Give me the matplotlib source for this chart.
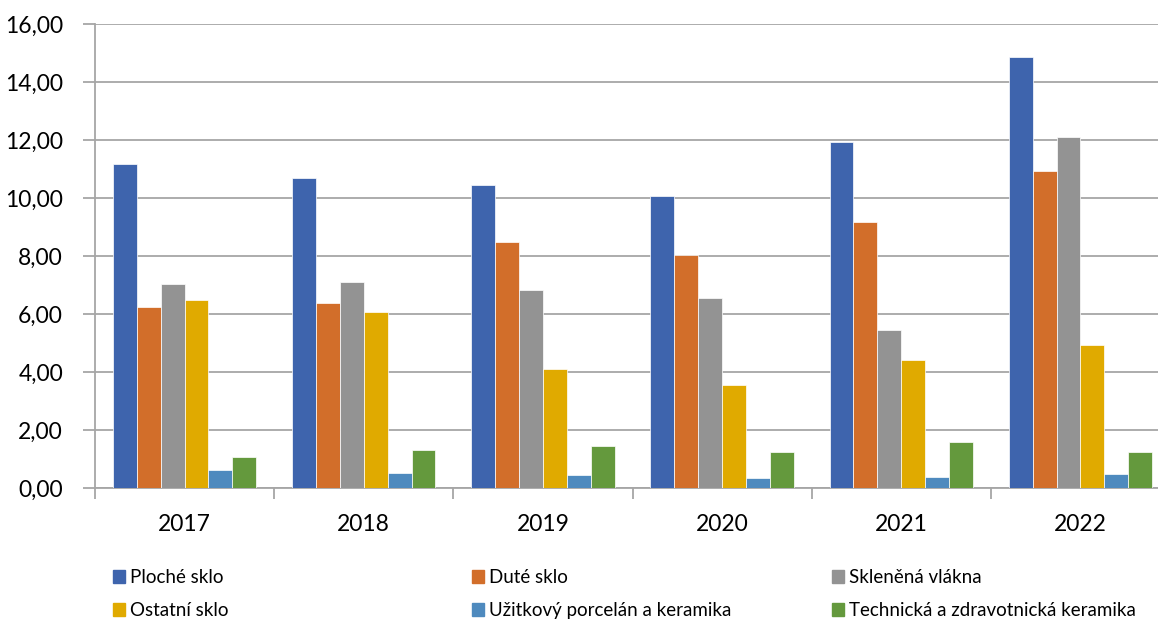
import matplotlib
matplotlib.use("Agg")
import matplotlib.pyplot as plt
import numpy as np
from matplotlib.patches import Patch
from matplotlib.ticker import FuncFormatter

years = ["2017", "2018", "2019", "2020", "2021", "2022"]
series_names = ["Ploché sklo", "Duté sklo", "Skleněná vlákna",
                "Ostatní sklo", "Užitkový porcelán a keramika",
                "Technická a zdravotnická keramika"]
ploche_sklo = [11.16, 10.70, 10.46, 10.07, 11.94, 14.87]
dute_sklo = [6.25, 6.39, 8.50, 8.02, 9.18, 10.92]
sklenena_vlakna = [7.04, 7.09, 6.82, 6.55, 5.45, 12.11]
ostatni_sklo = [6.49, 6.08, 4.09, 3.54, 4.43, 4.93]
uzitkovy_porcelan = [0.61, 0.53, 0.46, 0.34, 0.39, 0.49]
technicka_keramika = [1.08, 1.32, 1.45, 1.25, 1.60, 1.25]
y_ticks = [0, 2, 4, 6, 8, 10, 12, 14, 16]

series = [ploche_sklo, dute_sklo, sklenena_vlakna, ostatni_sklo,
          uzitkovy_porcelan, technicka_keramika]
colors = ["#3E64AD", "#D26E2A", "#939393", "#E0AA00", "#4E8ABE", "#64993D"]

plt.rcParams['font.family'] = ['Lato', 'DejaVu Sans']

fig = plt.figure(figsize=(11.58, 6.19), dpi=100)
ax = fig.add_axes([95 / 1158, (619 - 488) / 619, (1170 - 95) / 1158, 464 / 619])

x = np.arange(len(years))
bw = 1.0 / 7.5
for i, (vals, c) in enumerate(zip(series, colors)):
    ax.bar(x - 2.5 * bw + i * bw, vals, width=bw, color=c,
           edgecolor="white", linewidth=0.5, zorder=3, label=series_names[i])

ax.set_xlim(-0.5, len(years) - 0.5)
ax.set_ylim(0, 16)
ax.set_yticks(y_ticks)
ax.yaxis.set_major_formatter(FuncFormatter(lambda v, p: f"{v:.2f}".replace(".", ",")))
ax.grid(axis="y", color="#A6A6A6", linewidth=1.3, zorder=0)
ax.set_axisbelow(True)

ax.set_xticks(x)
ax.set_xticklabels(years)
ax.set_xticks(np.arange(-0.5, len(years)), minor=True)
ax.tick_params(axis="x", which="major", length=0, pad=19, labelsize=16.5)
ax.tick_params(axis="x", which="minor", length=8, width=1.3, color="#A6A6A6", direction="out")
ax.tick_params(axis="y", length=9, width=1.3, color="#A6A6A6", pad=14, labelsize=16.5)

for s in ["top", "right"]:
    ax.spines[s].set_visible(False)
for s in ["left", "bottom"]:
    ax.spines[s].set_color("#A6A6A6")
    ax.spines[s].set_linewidth(1.3)

handles = [Patch(facecolor=c, edgecolor=c) for c in colors]
col_x = [113, 472, 832]
for col in range(3):
    idx = [col, col + 3]
    fig.legend([handles[i] for i in idx], [series_names[i] for i in idx],
               loc="upper left", bbox_to_anchor=(col_x[col] / 1158, 1 - 569 / 619),
               frameon=False, fontsize=13.5, handlelength=0.65, handleheight=0.65,
               handletextpad=0.25, labelspacing=0.85, borderaxespad=0, borderpad=0)

fig.savefig("out.png", dpi=100)
